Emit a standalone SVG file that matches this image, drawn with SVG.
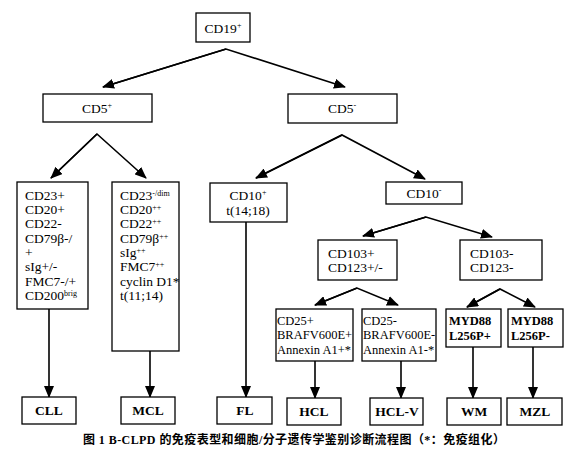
<svg xmlns="http://www.w3.org/2000/svg" width="581" height="461" viewBox="0 0 581 461">
<defs>
<style>
.box{fill:#fff;stroke:#000;stroke-width:1.3}
.t{font-size:13.5px;fill:#000}
.s{font-size:12.5px;fill:#000}
.c{text-anchor:middle}
.b{font-weight:bold}
.sup{font-size:8px}
.con{stroke:#000;stroke-width:1.6;fill:none}
.cap{font-size:12px;font-weight:bold;fill:#000}
</style>
<marker id="ah" markerUnits="userSpaceOnUse" markerWidth="12" markerHeight="10" refX="11" refY="5" orient="auto">
<path d="M0,0 L12,5 L0,10 Z" fill="#000"/>
</marker>
</defs>
<g id="connectors">
<polyline class="con" points="103,87 226,49 345,87" marker-end="url(#ah)"/>
<path class="con" d="M226,49 L103,87" marker-end="url(#ah)"/>
<polyline class="con" points="51,178 97,134 146,178" marker-end="url(#ah)"/>
<path class="con" d="M97,134 L51,178" marker-end="url(#ah)"/>
<polyline class="con" points="256,178 342,135 425,179" marker-end="url(#ah)"/>
<path class="con" d="M342,135 L256,178" marker-end="url(#ah)"/>
<polyline class="con" points="363,236 426,217 492,237" marker-end="url(#ah)"/>
<path class="con" d="M426,217 L363,236" marker-end="url(#ah)"/>
<polyline class="con" points="315,305 357,288 398,305" marker-end="url(#ah)"/>
<path class="con" d="M357,288 L315,305" marker-end="url(#ah)"/>
<polyline class="con" points="467,307 500,289 535,307" marker-end="url(#ah)"/>
<path class="con" d="M500,289 L467,307" marker-end="url(#ah)"/>
<path class="con" d="M49,309 V397" marker-end="url(#ah)"/>
<path class="con" d="M150,351 V397" marker-end="url(#ah)"/>
<path class="con" d="M246,222 V397" marker-end="url(#ah)"/>
<path class="con" d="M315,361 V398" marker-end="url(#ah)"/>
<path class="con" d="M401,361 V398" marker-end="url(#ah)"/>
<path class="con" d="M473,347 V398" marker-end="url(#ah)"/>
<path class="con" d="M533,347 V398" marker-end="url(#ah)"/>
</g>
<g font-family="'Liberation Serif', 'Times New Roman', Times, serif">
<g id="cd19"><rect class="box" x="196" y="13" width="54" height="29"/><text class="t c" x="223" y="33">CD19<tspan class="sup" dy="-5">+</tspan></text></g>
<g id="cd5pos"><rect class="box" x="43" y="94" width="109" height="28"/><text class="t c" x="97" y="113">CD5<tspan class="sup" dy="-5">+</tspan></text></g>
<g id="cd5neg"><rect class="box" x="288" y="94" width="109" height="29"/><text class="t c" x="342" y="113">CD5<tspan class="sup" dy="-5">-</tspan></text></g>
<g id="cll-pheno"><rect class="box" x="17" y="182" width="71" height="127"/>
<text class="t" x="25" y="200">CD23+</text>
<text class="t" x="25" y="214">CD20+</text>
<text class="t" x="25" y="228">CD22-</text>
<text class="t" x="25" y="243">CD79β-/</text>
<text class="t" x="25" y="257">+</text>
<text class="t" x="25" y="271">sIg+/-</text>
<text class="t" x="25" y="286">FMC7-/+</text>
<text class="t" x="25" y="300">CD200<tspan class="sup" dy="-4">brig</tspan></text>
</g>
<g id="mcl-pheno"><rect class="box" x="112" y="182" width="67" height="169"/>
<text class="t" x="120" y="200">CD23<tspan class="sup" dy="-4">-/dim</tspan></text>
<text class="t" x="120" y="214">CD20<tspan class="sup" dy="-4">++</tspan></text>
<text class="t" x="120" y="228">CD22<tspan class="sup" dy="-4">++</tspan></text>
<text class="t" x="120" y="243">CD79β<tspan class="sup" dy="-4">++</tspan></text>
<text class="t" x="120" y="257">sIg<tspan class="sup" dy="-4">++</tspan></text>
<text class="t" x="120" y="271">FMC7<tspan class="sup" dy="-4">++</tspan></text>
<text class="t" x="120" y="286">cyclin D1*</text>
<text class="t" x="120" y="300">t(11;14)</text>
</g>
<g id="cd10pos"><rect class="box" x="210" y="183" width="77" height="39"/>
<text class="t c" x="248" y="200">CD10<tspan class="sup" dy="-5">+</tspan></text>
<text class="t c" x="248" y="215">t(14;18)</text></g>
<g id="cd10neg"><rect class="box" x="386" y="182" width="76" height="22"/><text class="t c" x="424" y="198">CD10<tspan class="sup" dy="-5">-</tspan></text></g>
<g id="cd103pos"><rect class="box" x="318" y="240" width="79" height="40"/>
<text class="t" x="328" y="258">CD103+</text><text class="t" x="328" y="272">CD123+/-</text></g>
<g id="cd103neg"><rect class="box" x="460" y="240" width="82" height="40"/>
<text class="t" x="470" y="258">CD103-</text><text class="t" x="470" y="272">CD123-</text></g>
<g id="cd25pos"><rect class="box" x="276" y="309" width="77" height="52"/>
<text class="s" x="277" y="325">CD25+</text><text class="s" x="277" y="339">BRAFV600E+</text><text class="s" x="277" y="354">Annexin A1+*</text></g>
<g id="cd25neg"><rect class="box" x="362" y="309" width="74" height="52"/>
<text class="s" x="363" y="325">CD25-</text><text class="s" x="363" y="339">BRAFV600E-</text><text class="s" x="363" y="354">Annexin A1-*</text></g>
<g id="myd88pos"><rect class="box" x="446" y="309" width="55" height="38"/>
<text class="s b" x="449" y="325">MYD88</text><text class="s b" x="449" y="340">L256P+</text></g>
<g id="myd88neg"><rect class="box" x="508" y="309" width="55" height="38"/>
<text class="s b" x="511" y="325">MYD88</text><text class="s b" x="511" y="340">L256P-</text></g>
<g id="cll"><rect class="box" x="22" y="397" width="54" height="27"/><text class="t c b" x="49" y="415">CLL</text></g>
<g id="mcl"><rect class="box" x="121" y="397" width="54" height="27"/><text class="t c b" x="148" y="415">MCL</text></g>
<g id="fl"><rect class="box" x="217" y="397" width="55" height="27"/><text class="t c b" x="245" y="415">FL</text></g>
<g id="hcl"><rect class="box" x="287" y="398" width="54" height="27"/><text class="t c b" x="314" y="416">HCL</text></g>
<g id="hclv"><rect class="box" x="370" y="398" width="53" height="27"/><text class="t c b" x="397" y="416">HCL-V</text></g>
<g id="wm"><rect class="box" x="447" y="398" width="54" height="27"/><text class="t c b" x="474" y="416">WM</text></g>
<g id="mzl"><rect class="box" x="507" y="398" width="55" height="27"/><text class="t c b" x="535" y="416">MZL</text></g>
</g>
<text class="cap" font-family="'Liberation Serif', 'Noto Sans CJK SC', serif" x="83" y="444" textLength="422" lengthAdjust="spacing">图 1   B-CLPD 的免疫表型和细胞/分子遗传学鉴别诊断流程图（*：免疫组化）</text>
</svg>
